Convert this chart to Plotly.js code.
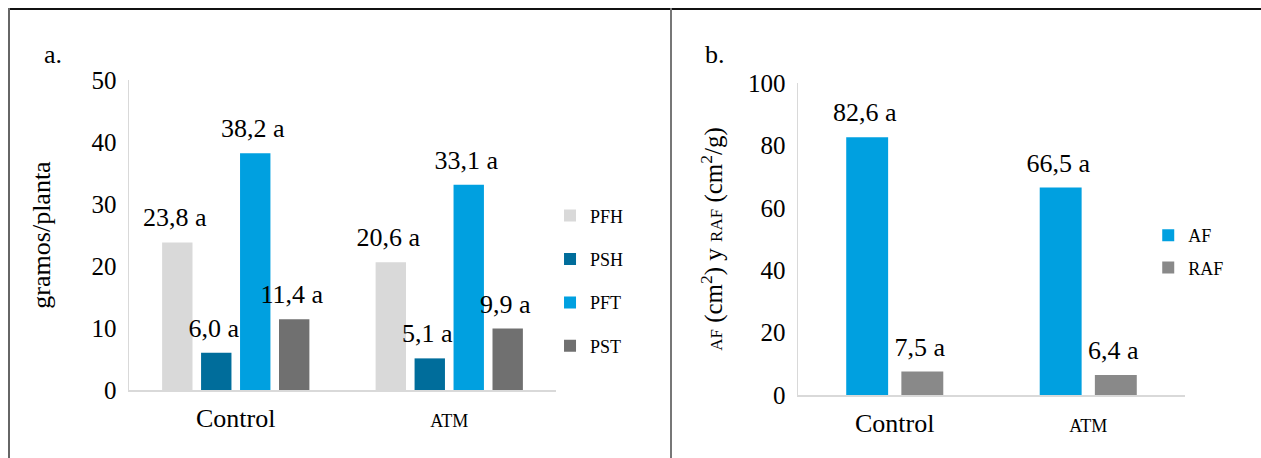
<!DOCTYPE html>
<html>
<head>
<meta charset="utf-8">
<script src="https://cdn.plot.ly/plotly-3.0.1.min.js"></script>
<style>
html,body{margin:0;padding:0;background:#fff;}
#wrap{position:relative;width:1261px;height:458px;overflow:hidden;}
#chartA{position:absolute;left:0;top:0;width:670px;height:458px;}
#chartB{position:absolute;left:670px;top:0;width:591px;height:458px;}
.ln{position:absolute;}
</style>
</head>
<body>
<div id="wrap">
  <div id="chartA"></div>
  <div id="chartB"></div>
  <div class="ln" style="left:8px;top:8px;width:1253px;height:1.5px;background:#111;"></div>
  <div class="ln" style="left:8px;top:8px;width:1.5px;height:450px;background:#666;"></div>
  <div class="ln" style="left:670px;top:8px;width:1.5px;height:450px;background:#777;"></div>
</div>
<script>
// ---- data ----
const categories = ['Control', 'ATM'];
const seriesA = ['PFH', 'PSH', 'PFT', 'PST'];
const PFH = [23.8, 20.6];
const PSH = [6.0, 5.1];
const PFT = [38.2, 33.1];
const PST = [11.4, 9.9];
const letterA = ['a', 'a'];
const seriesB = ['AF', 'RAF'];
const AF = [82.6, 66.5];
const RAF = [7.5, 6.4];
const letterB = ['a', 'a'];
const yTicksA = [0, 10, 20, 30, 40, 50];
const yTicksB = [0, 20, 40, 60, 80, 100];

// ---- style ----
const FONT = 'Liberation Serif, Times New Roman, serif';
const colorsA = ['#d9d9d9', '#006d9b', '#00a0e0', '#707070'];
const colorsB = ['#00a0e0', '#898989'];
const tickText = categories.map((c, i) => i === 0 ? c : '<span style="font-size:18px">' + c + '</span>');
// a tall hair-space lifts the label a little above the bar top
const LIFT = '<span style="font-size:60px">\u200a</span>';

function fmt(v, l) { return v.toFixed(1).replace('.', ',') + ' ' + l; }

function makeTraces(names, vals, colors, letters) {
  return names.map((n, i) => ({
    type: 'bar', name: n, x: categories, y: vals[i],
    legendgroup: n,
    marker: {color: colors[i]},
    text: vals[i].map((v, j) => fmt(v, letters[j]) + LIFT),
    textposition: 'outside', constraintext: 'none', cliponaxis: false,
    textfont: {family: FONT, size: 26, color: '#000'},
    hoverinfo: 'skip'
  }));
}

function baseLayout(opts) {
  return {
    width: opts.w, height: 458,
    margin: opts.margin,
    paper_bgcolor: 'rgba(0,0,0,0)', plot_bgcolor: 'rgba(0,0,0,0)',
    font: {family: FONT, color: '#000'},
    barmode: 'group', bargap: opts.bargap, bargroupgap: opts.bargroupgap,
    showlegend: true,
    legend: {x: opts.legx, y: opts.legy, xref: 'paper', yref: 'paper', xanchor: 'left', yanchor: 'middle',
      font: {family: FONT, size: 18, color: '#000'}, tracegroupgap: opts.leggap, itemwidth: 30,
      bgcolor: 'rgba(0,0,0,0)'},
    xaxis: {type: 'category', tickvals: categories, ticktext: tickText,
      showline: true, linecolor: '#d9d9d9', linewidth: 1.5, ticks: '', showgrid: false, zeroline: false,
      ticklabelstandoff: 4,
      tickfont: {family: FONT, size: 26, color: '#000'}, fixedrange: true},
    yaxis: {range: opts.range, tickvals: opts.ticks, showline: true, linecolor: '#d9d9d9', linewidth: 1.5,
      ticks: '', showgrid: false, zeroline: false, ticklabelstandoff: 6,
      tickfont: {family: FONT, size: 25, color: '#000'},
      title: {text: opts.ytitle, font: {family: FONT, size: opts.tsize, color: '#000'}, standoff: opts.standoff},
      fixedrange: true},
    annotations: [{text: opts.label, xref: 'paper', yref: 'paper', x: opts.labx, y: opts.laby,
      xanchor: 'left', yanchor: 'middle', showarrow: false, font: {family: FONT, size: 26, color: '#000'}}]
  };
}

const layoutA = baseLayout({
  w: 670, margin: {l: 129, r: 114, t: 80, b: 68},
  bargap: 0.27, bargroupgap: 0.22, range: [0, 50], ticks: yTicksA,
  ytitle: 'gramos/planta', tsize: 26, standoff: 33,
  legx: 0.986, legy: 0.352, leggap: 17, label: 'a.', labx: -0.203, laby: 1.081
});
Plotly.newPlot('chartA', makeTraces(seriesA, [PFH, PSH, PFT, PST], colorsA, letterA), layoutA,
  {staticPlot: true, displayModeBar: false});

const layoutB = baseLayout({
  w: 591, margin: {l: 128, r: 76, t: 83, b: 63},
  bargap: 0.43, bargroupgap: 0.24, range: [0, 100], ticks: yTicksB,
  ytitle: '<span style="font-size:17px">AF</span> (cm<sup>2</sup>) y <span style="font-size:17px">RAF</span> (cm<sup>2</sup>/g)',
  tsize: 25, standoff: 18,
  legx: 0.905, legy: 0.46, leggap: 6, label: 'b.', labx: -0.245, laby: 1.09
});
Plotly.newPlot('chartB', makeTraces(seriesB, [AF, RAF], colorsB, letterB), layoutB,
  {staticPlot: true, displayModeBar: false});
</script>
</body>
</html>
